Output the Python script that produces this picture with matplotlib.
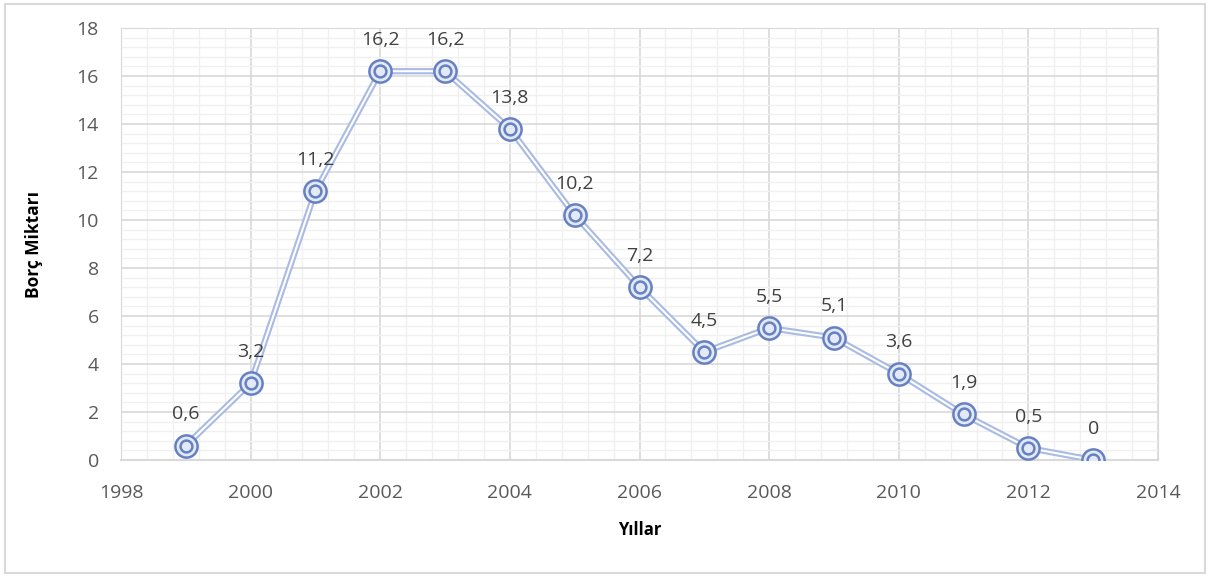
import matplotlib
matplotlib.use("Agg")
import matplotlib.pyplot as plt
from matplotlib.ticker import MultipleLocator
from matplotlib.patches import Rectangle

years = [1999, 2000, 2001, 2002, 2003, 2004, 2005, 2006, 2007, 2008, 2009, 2010, 2011, 2012, 2013]
values = [0.6, 3.2, 11.2, 16.2, 16.2, 13.8, 10.2, 7.2, 4.5, 5.5, 5.1, 3.6, 1.9, 0.5, 0.0]
labels = ["0,6", "3,2", "11,2", "16,2", "16,2", "13,8", "10,2", "7,2", "4,5", "5,5", "5,1", "3,6", "1,9", "0,5", "0"]

plt.rcParams['font.family'] = ['Open Sans', 'DejaVu Sans']

fig = plt.figure(figsize=(12.11, 5.76), dpi=100)
ax = fig.add_axes([121/1211, 1-460/576, (1158-121)/1211, (460-28)/576])

fig.patches.append(Rectangle((5/1211, 3/576), 1200/1211, 569/576, transform=fig.transFigure,
                             fill=False, edgecolor='#d9d9d9', linewidth=1.5))

ax.set_xlim(1998, 2014)
ax.set_ylim(0, 18)
ax.xaxis.set_major_locator(MultipleLocator(2))
ax.xaxis.set_minor_locator(MultipleLocator(0.4))
ax.yaxis.set_major_locator(MultipleLocator(2))
ax.yaxis.set_minor_locator(MultipleLocator(0.4))
ax.grid(which='major', color='#d9d9d9', linewidth=1.2)
ax.grid(which='minor', color='#f0f0f0', linewidth=1.0)
ax.set_axisbelow(True)
for s in ['top', 'right', 'left']:
    ax.spines[s].set_color('#d9d9d9')
ax.spines['bottom'].set_color('#d9d9d9')
ax.spines['bottom'].set_linewidth(1.5)
ax.tick_params(which='both', length=0)
ax.tick_params(axis='both', labelsize=14, labelcolor='#595959')
ax.tick_params(axis='y', pad=16)
ax.tick_params(axis='x', pad=17)

ax.plot(years, values, color='#a9bbe2', linewidth=4.5, solid_capstyle='round', zorder=3)
ax.plot(years, values, color='white', linewidth=1.5, zorder=4)
ax.plot(years, values, linestyle='none', marker='o', markersize=16, markerfacecolor='#e3e9f6',
        markeredgecolor='#6681c2', markeredgewidth=1.8, zorder=5)
ax.plot(years, values, linestyle='none', marker='o', markersize=8.5, markerfacecolor='#e3e9f6',
        markeredgecolor='#6681c2', markeredgewidth=1.8, zorder=6)

for x, y, t in zip(years, values, labels):
    ax.annotate(t, (x, y), xytext=(0, 16), textcoords='offset points', ha='center', va='bottom',
                fontsize=14, color='#404040', zorder=7)

ax.set_xlabel('Yıllar', fontsize=12, fontweight='bold', color='black', labelpad=14)
ax.set_ylabel('Borç Miktarı', fontsize=12.5, fontweight='bold', color='black', labelpad=24)

fig.savefig('out.png', dpi=100)
